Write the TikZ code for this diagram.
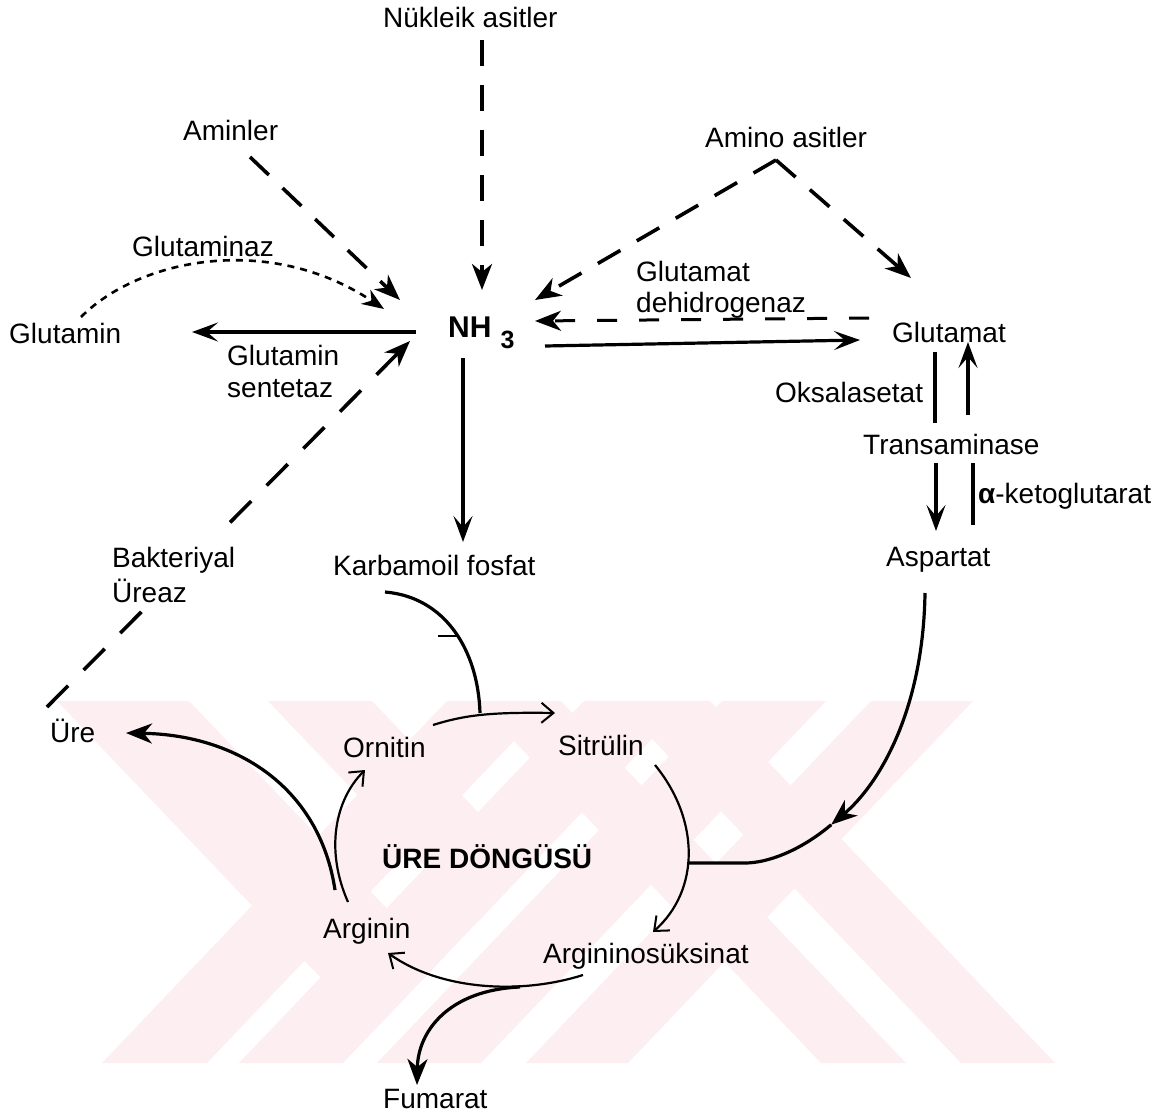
\documentclass[tikz,border=0pt]{standalone}
\usepackage{fontspec}
\setmainfont{Liberation Sans}
\usetikzlibrary{arrows.meta}
\definecolor{wm}{RGB}{253,238,241}
\begin{document}
\begin{tikzpicture}[x=1pt,y=-1pt,
  lbl/.style={font=\fontsize{28}{32}\selectfont, inner sep=0pt, anchor=base west},
  bld/.style={font=\fontsize{28}{32}\selectfont\bfseries, inner sep=0pt, anchor=base west},
  tipS/.style={-{Stealth[length=26pt,width=20pt,inset=8pt]}},
  tipT/.style={-{Stealth[length=26pt,width=19pt,inset=11pt]}},
  tipO/.style={-{Straight Barb[length=12pt,width=20pt,line width=2pt]}},
  solidarr/.style={line width=3.2pt, tipT},
  thickarr/.style={line width=3.2pt, tipS},
  dsharr/.style={line width=3.6pt, dash pattern=on 26pt off 19pt, tipS},
  dsharrb/.style={line width=3pt, dash pattern=on 20pt off 22pt, tipS},
  dotarr/.style={line width=2.6pt, dash pattern=on 7pt off 6pt, -{Stealth[length=22pt,width=17pt,inset=7pt]}},
  cyc/.style={line width=2.2pt, tipO},
  plain/.style={line width=3.2pt}
]
\useasboundingbox (0,0) rectangle (1167,1113);
\fill[white] (0,0) rectangle (1167,1113);

% ---------- watermark ----------
\begin{scope}
\clip (0,701) rectangle (1167,1063);
\fill[wm] (102,1063) -- (207,1063) -- (552,701) -- (447,701) -- cycle;
\fill[wm] (239,1063) -- (343,1063) -- (688,701) -- (584,701) -- cycle;
\fill[wm] (377,1063) -- (481,1063) -- (826,701) -- (722,701) -- cycle;
\fill[wm] (526,1063) -- (628,1063) -- (973,701) -- (871,701) -- cycle;
\fill[wm] (821,1063) -- (906,1063) -- (561,701) -- (476,701) -- cycle;
\fill[wm] (961,1063) -- (1055,1063) -- (710,701) -- (616,701) -- cycle;
\fill[wm] (57,701) -- (189,701) -- (438.4,962.7) -- (372.5,1032) -- cycle;
\fill[wm] (268,701) -- (372,701) -- (529.9,866.7) -- (477.9,921.3) -- cycle;
\end{scope}

% ---------- connector end points ----------
\coordinate (nuk-out) at (482,40);
\coordinate (nh3-top) at (482,290);
\coordinate (amin-out) at (250,157);
\coordinate (nh3-tl) at (400,300);
\coordinate (amino-apex) at (776,160);
\coordinate (nh3-tr) at (535,300);
\coordinate (glutamat-top) at (911,278);
\coordinate (glutamin-top) at (81,317);
\coordinate (nh3-l) at (384,309);
\coordinate (nh3-w) at (416,332);
\coordinate (glutamin-e) at (192,332);
\coordinate (ure-top) at (47,707);
\coordinate (nh3-bl) at (410,341);
\coordinate (nh3-s) at (463,358);
\coordinate (karb-n) at (463,542);
\coordinate (nh3-e) at (545,346);
\coordinate (glutamat-w) at (860,340);
\coordinate (glutamat-wd) at (869,318);
\coordinate (nh3-ed) at (535,321);
\coordinate (tl1a) at (935,352);  \coordinate (tl1b) at (935,423);
\coordinate (tr1a) at (968,415);  \coordinate (tr1b) at (968,342);
\coordinate (tl2a) at (936,463);  \coordinate (tl2b) at (936,531);
\coordinate (tr2a) at (973,463);  \coordinate (tr2b) at (973,525);
\coordinate (asp-s) at (925,593);
\coordinate (asp-mid) at (831.2,824.7);
\coordinate (cyc-join) at (689,863);
\coordinate (karb-s) at (385,592);
\coordinate (orn-sit) at (480,713);
\coordinate (orn-ne) at (433,725);
\coordinate (sit-w) at (555,713);
\coordinate (sit-se) at (655,765);
\coordinate (args-n) at (653,932);
\coordinate (args-w) at (583,975);
\coordinate (arg-se) at (388,953);
\coordinate (fum-branch) at (520,987);
\coordinate (fum-n) at (417,1085);
\coordinate (arg-n) at (348,902);
\coordinate (orn-s) at (365,770);
\coordinate (arg-nw) at (335,890);
\coordinate (ure-e) at (126,733);

% Bakteriyal Ureaz dashed line (drawn first, its label masks it)
\draw[dsharr, dash pattern=on 30pt off 22pt] (ure-top) -- (nh3-bl);

% ---------- texts ----------
\node[lbl] (nuk) at (383,28) {Nükleik asitler};
\node[lbl] (amin) at (183,141) {Aminler};
\node[lbl] (amino) at (705,148) {Amino asitler};
\node[lbl] (glz) at (132,256) {Glutaminaz};
\node[lbl] (glutamin) at (9,343) {Glutamin};
\node[lbl] (gs1) at (227,365) {Glutamin};
\node[lbl] (gs2) at (227,397) {sentetaz};
\node[inner sep=0pt, anchor=base west, font=\fontsize{30}{32}\selectfont\bfseries] (nh3) at (448,337)
  {NH\hspace{9pt}\raisebox{-11pt}{\fontsize{25}{25}\selectfont 3}};
\node[lbl] (gd1) at (636,281) {Glutamat};
\node[lbl] (gd2) at (636,312) {dehidrogenaz};
\node[lbl] (glutamat) at (892,342) {Glutamat};
\node[lbl] (oksa) at (775,402) {Oksalasetat};
\node[lbl] (trans) at (863,454) {Transaminase};
\node[lbl] (akg) at (978,503) {{\bfseries α}-ketoglutarat};
\node[lbl] (asp) at (886,566) {Aspartat};
\node[lbl] (karb) at (333,575) {Karbamoil fosfat};
\node[lbl, fill=white, inner ysep=14pt, inner xsep=8pt, xshift=-8pt] (bak1) at (112,567) {Bakteriyal};
\node[lbl, fill=white, inner ysep=6pt, inner xsep=8pt, xshift=-8pt] (bak2) at (112,602) {Üreaz};
\node[lbl] (ure) at (50,742) {Üre};
\node[lbl] (orn) at (343,757) {Ornitin};
\node[lbl] (sit) at (558,755) {Sitrülin};
\node[bld] (cyctitle) at (382,868) {ÜRE DÖNGÜSÜ};
\node[lbl] (arg) at (323,938) {Arginin};
\node[lbl] (args) at (543,963) {Argininosüksinat};
\node[lbl] (fum) at (383,1108) {Fumarat};

% ---------- connectors ----------
\draw[dsharr] (nuk-out) -- (nh3-top);
\draw[dsharr] (amin-out) -- (nh3-tl);
\draw[dsharr] (amino-apex) -- (nh3-tr);
\draw[dsharr] (amino-apex) -- (glutamat-top);
\draw[dotarr] (glutamin-top) .. controls (140,258) and (270,233) .. (nh3-l);
\draw[solidarr] (nh3-w) -- (glutamin-e);
\draw[solidarr] (nh3-s) -- (karb-n);
\draw[solidarr] (nh3-e) -- (glutamat-w);
\draw[dsharrb] (glutamat-wd) -- (nh3-ed);
\draw[plain] (tl1a) -- (tl1b);
\draw[solidarr] (tr1a) -- (tr1b);
\draw[solidarr] (tl2a) -- (tl2b);
\draw[plain] (tr2a) -- (tr2b);

% Aspartat into the cycle
\draw[thickarr] (asp-s) .. controls (923.2,711.2) and (878.6,784.8) .. (asp-mid);
\draw[plain] (asp-mid) .. controls (799.7,851.3) and (767,863) .. (745,863) -- (cyc-join);

% Karbamoil fosfat into the cycle
\draw[plain] (karb-s) .. controls (445,597) and (478,650) .. (orn-sit);
\draw[line width=2.6pt] (438,636) -- (458,636);

% urea cycle
\draw[cyc] (orn-ne) .. controls (465,715) and (490,712) .. (sit-w);
\draw[cyc] (sit-se) .. controls (700,820) and (700,890) .. (args-n);
\draw[cyc] (args-w) .. controls (520,995) and (440,990) .. (arg-se);
\draw[thickarr] (fum-branch) .. controls (450,990) and (418,1030) .. (fum-n);
\draw[cyc] (arg-n) .. controls (325,850) and (335,800) .. (orn-s);
\draw[thickarr] (arg-nw) .. controls (320,790) and (240,735) .. (ure-e);
\end{tikzpicture}
\end{document}
